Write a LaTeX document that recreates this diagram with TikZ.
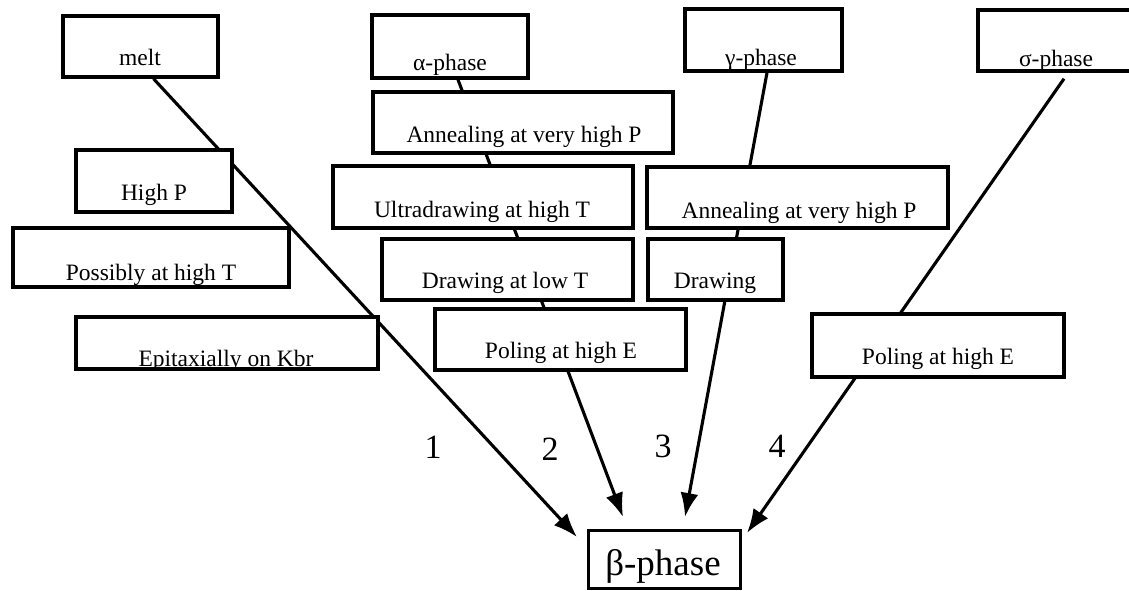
\documentclass[tikz,border=0pt]{standalone}
\usepackage{fontspec}
\setmainfont{Liberation Serif}
\usetikzlibrary{arrows.meta,backgrounds,calc}
\begin{document}
\begin{tikzpicture}[x=1pt,y=-1pt,
  box/.style={draw,line width=3.4pt,fill=white,inner sep=0pt},
  lbl/.style={anchor=base,inner sep=0pt,font=\fontsize{23.5}{28}\selectfont},
  num/.style={anchor=base,inner sep=0pt,font=\fontsize{34}{40}\selectfont},
  arr/.style={line width=3.1pt,-{Latex[length=24pt,width=18pt]}}]
\useasboundingbox (0,0) rectangle (1129,590);
\clip (0,0) rectangle (1129,590);
% boxes
\node[box,minimum width=155,minimum height=61] (melt)  at (140.5,46.5) {};
\node[box,minimum width=156,minimum height=63] (alpha) at (450,46.5) {};
\node[box,minimum width=157,minimum height=62] (gamma) at (763.5,40) {};
\node[box,minimum width=162,minimum height=61] (sigma) at (1059,40.5) {};
\node[box,minimum width=300,minimum height=61] (annL)  at (523,122.5) {};
\node[box,minimum width=156,minimum height=62] (highP) at (154,181) {};
\node[box,minimum width=300,minimum height=62] (ultra) at (483,197) {};
\node[box,minimum width=301,minimum height=61] (annR)  at (797.5,197.5) {};
\node[box,minimum width=276,minimum height=59] (poss)  at (151,257.5) {};
\node[box,minimum width=251,minimum height=61] (dlow)  at (507.5,269.5) {};
\node[box,minimum width=135,minimum height=61] (drw)   at (715.5,269.5) {};
\node[box,minimum width=302,minimum height=52] (epi)   at (227,343) {};
\node[box,minimum width=251,minimum height=61] (polM)  at (560.5,339.5) {};
\node[box,minimum width=252,minimum height=63] (polR)  at (938,345.5) {};
\node[box,line width=3pt,minimum width=152,minimum height=58] (beta)  at (664,559) {};
% texts
\node[lbl] (tmelt)  at (140,65)  {melt};
\node[lbl] (talpha) at (450,70)  {α-phase};
\node[lbl] (tgamma) at (761,65)  {γ-phase};
\node[lbl] (tsigma) at (1056,66) {σ-phase};
\node[lbl] (tannL)  at (524,142) {Annealing at very high P};
\node[lbl] (thighP) at (154,200) {High P};
\node[lbl] (tultra) at (482,217) {Ultradrawing at high T};
\node[lbl] (tannR)  at (799,218) {Annealing at very high P};
\node[lbl] (tposs)  at (151,280) {Possibly at high T};
\node[lbl] (tdlow)  at (505,288) {Drawing at low T};
\node[lbl] (tdrw)   at (715,288) {Drawing};
\node[lbl] (tepi)   at (226,366) {Epitaxially on Kbr};
\node[lbl] (tpolM)  at (561,358) {Poling at high E};
\node[lbl] (tpolR)  at (938,364) {Poling at high E};
\node[lbl,font=\fontsize{37}{44}\selectfont] (tbeta) at (663,575) {β-phase};
% numbers
\node[num] (n1) at (433,458) {1};
\node[num] (n2) at (550,460) {2};
\node[num] (n3) at (663,457) {3};
\node[num] (n4) at (777,457) {4};
% arrow ends
\coordinate (e1) at (577,537);
\coordinate (e2) at (623,517);
\coordinate (e3) at (685,517);
\coordinate (e4) at (747,533);
\begin{pgfonlayer}{background}
\draw[arr] ($(melt.south)+(13,0)$) -- (e1);
\draw[arr] ($(alpha.south)+(8,0)$) -- (e2);
\draw[arr] ($(gamma.south)+(3.5,0)$) -- (e3);
\draw[arr] ($(sigma.south)+(5,6)$) -- (e4);
\end{pgfonlayer}
\end{tikzpicture}
\end{document}
